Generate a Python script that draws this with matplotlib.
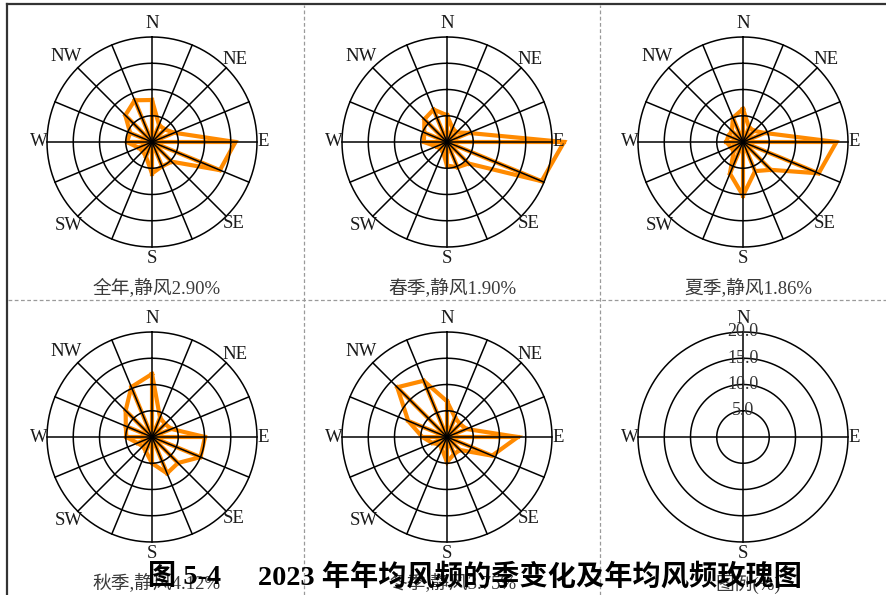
import numpy as np
import matplotlib
matplotlib.use('Agg')
import matplotlib.pyplot as plt
from matplotlib.lines import Line2D

# wind frequency (%) for 16 directions, clockwise from N
directions = ['N', 'NNE', 'NE', 'ENE', 'E', 'ESE', 'SE', 'SSE',
              'S', 'SSW', 'SW', 'WSW', 'W', 'WNW', 'NW', 'NNW']
annual = [8.0, 3.5, 3.4, 4.6, 15.9, 14.0, 5.3, 5.0, 6.0, 3.0, 2.5, 2.8, 4.8, 4.5, 7.2, 8.6]
spring = [5.1, 2.8, 2.6, 4.5, 22.3, 19.5, 5.8, 5.2, 4.5, 2.0, 1.8, 2.2, 4.4, 4.7, 6.1, 6.7]
summer = [6.3, 3.0, 3.0, 4.5, 17.8, 15.6, 7.5, 6.0, 10.2, 6.5, 2.5, 2.5, 3.2, 3.0, 3.0, 5.0]
autumn = [12.0, 4.0, 3.5, 4.0, 10.1, 10.0, 7.0, 7.5, 5.0, 3.0, 2.5, 3.0, 4.9, 5.4, 7.1, 10.3]
winter = [6.8, 4.0, 3.5, 4.0, 13.5, 9.3, 3.5, 3.5, 4.8, 2.5, 2.0, 3.0, 4.7, 8.0, 13.4, 11.6]

series = [annual, spring, summer, autumn, winter]
captions = ['全年,静风2.90%', '春季,静风1.90%', '夏季,静风1.86%',
            '秋季,静风4.12%', '冬季,静风3.75%', '图例(%)']
ring_values = [5, 10, 15, 20]
ring_labels = ['5.0', '10.0', '15.0', '20.0']
compass = {'N': (0, 22.5), 'NE': (45, 22.3), 'E': (90, 21.1), 'SE': (135, 21.9),
           'S': (180, 22.2), 'SW': (225, 22.4), 'W': (270, 21.6), 'NW': (315, 23.0)}

W, H = 886, 595
serif = ['Liberation Serif', 'Noto Sans CJK SC']
orange = '#FF8A00'

fig = plt.figure(figsize=(W / 100, H / 100), dpi=100)

centers = [(152, 142), (447, 142), (743, 142), (152, 437), (447, 437), (743, 437)]
R = 105  # pixel radius of the 20% ring

theta16 = np.deg2rad(np.arange(16) * 22.5)
circle = np.linspace(0, 2 * np.pi, 361)

for i, (cx, cy) in enumerate(centers):
    ax = fig.add_axes([(cx - R) / W, (H - cy - R) / H, 2 * R / W, 2 * R / H],
                      projection='polar')
    ax.set_theta_zero_location('N')
    ax.set_theta_direction(-1)
    ax.set_ylim(0, 20)
    ax.axis('off')

    legend = (i == 5)
    if not legend:
        vals = series[i]
        th = np.append(theta16, theta16[0])
        rr = np.append(vals, vals[0])
        ax.plot(th, rr, color=orange, lw=3.0, zorder=2, solid_joinstyle='miter',
                clip_on=False)
        for t, v in zip(theta16, vals):
            ax.plot([t, t], [0, v], color=orange, lw=3.0, zorder=2, clip_on=False)
        for t in theta16:
            ax.plot([t, t], [0, 20], color='black', lw=1.1, zorder=3, clip_on=False)
    else:
        for t in np.deg2rad([0, 90, 180, 270]):
            ax.plot([t, t], [0, 20], color='black', lw=1.1, zorder=3, clip_on=False)

    for rv in ring_values:
        ax.plot(circle, np.full_like(circle, rv), color='black', lw=1.1, zorder=3,
                clip_on=False)

    for lab, (ang, rad) in compass.items():
        if legend and len(lab) > 1:
            continue
        ax.text(np.deg2rad(ang), rad, lab, ha='center', va='center',
                fontsize=13.5, family=serif, color='#1a1a1a')

    if legend:
        for rv, lab in zip(ring_values, ring_labels):
            ax.text(0, rv, lab, ha='center', va='center', fontsize=13,
                    family=serif, color='#333333', zorder=4)

    fig.text((cx + 5) / W, 1 - (cy + 147) / H, captions[i], ha='center', va='center',
             fontsize=13.5, family=serif, color='#3a3a3a')

# frame lines
fig.add_artist(Line2D([7 / W, 7 / W], [0, 1 - 4 / H], color='#333333', lw=1.6))
fig.add_artist(Line2D([7 / W, 1], [1 - 4 / H, 1 - 4 / H], color='#333333', lw=1.6))
for x in [304, 600]:
    fig.add_artist(Line2D([x / W, x / W], [0, 1 - 5 / H], color='#9a9a9a', lw=0.9,
                          linestyle=(0, (3, 2))))
fig.add_artist(Line2D([8 / W, 1], [1 - 300 / H, 1 - 300 / H], color='#9a9a9a', lw=0.9,
                      linestyle=(0, (3, 2))))

# figure title (overlaps the bottom captions, as in the source page)
fig.text(148 / W, 1 - 577 / H, '图 5-4', ha='left', va='center', fontsize=20.3,
         family=serif, fontweight='bold', color='black')
fig.text(258 / W, 1 - 577 / H, '2023 年年均风频的季变化及年均风频玫瑰图', ha='left',
         va='center', fontsize=20.3, family=serif, fontweight='bold', color='black')

fig.savefig('out.png', dpi=100)
